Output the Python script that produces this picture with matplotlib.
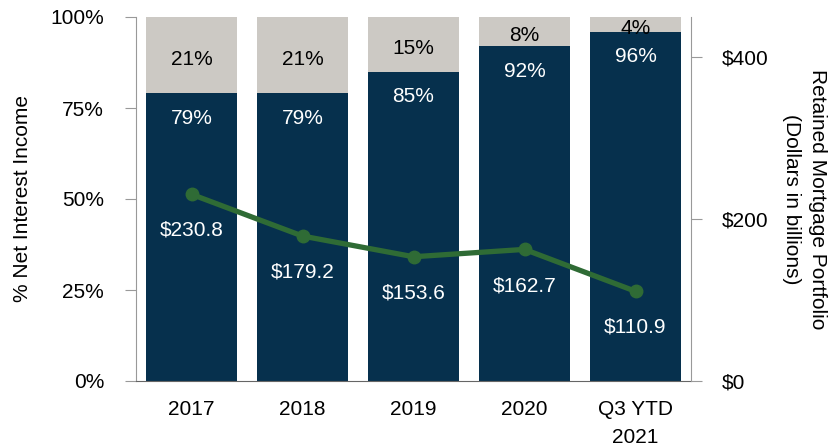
import matplotlib.pyplot as plt
import numpy as np

plt.rcParams['font.family'] = ['Liberation Sans', 'DejaVu Sans']

# data
years = ["2017", "2018", "2019", "2020", "Q3 YTD\n2021"]
nii_pct = [79, 79, 85, 92, 96]
other_pct = [21, 21, 15, 8, 4]
portfolio = [230.8, 179.2, 153.6, 162.7, 110.9]

navy = "#06304D"
grey = "#CCC9C4"
green = "#2F6B35"
axis_grey = "#999999"
fs = 15

fig = plt.figure(figsize=(8.35, 4.47), dpi=100)
ax = fig.add_axes([136/835, 1-381/447, (691-136)/835, (381-17)/447])
x = np.arange(len(years))

ax.bar(x, nii_pct, width=0.82, color=navy, zorder=2)
ax.bar(x, other_pct, bottom=nii_pct, width=0.82, color=grey, zorder=2)

for i in range(len(years)):
    ax.annotate(f"{nii_pct[i]}%", (x[i], nii_pct[i]), xytext=(0, -18), textcoords="offset points",
                ha="center", va="center", color="white", fontsize=fs, zorder=5)
    ax.annotate(f"{other_pct[i]}%", (x[i], nii_pct[i] + other_pct[i]/2), xytext=(0, -3),
                textcoords="offset points", ha="center", va="center", color="black", fontsize=fs, zorder=5)

ax.set_xlim(-0.5, len(years) - 0.5)
ax.set_ylim(0, 100)
ax.set_yticks([0, 25, 50, 75, 100])
ax.set_yticklabels(["0%", "25%", "50%", "75%", "100%"])
ax.set_xticks(x)
ax.set_xticklabels(years, linespacing=1.55)
ax.set_ylabel("% Net Interest Income", fontsize=fs, labelpad=13)

for s in ["top", "right"]:
    ax.spines[s].set_visible(False)
ax.spines["left"].set_color(axis_grey)
ax.spines["bottom"].set_color("#666666")
ax.tick_params(axis="y", length=8, color=axis_grey, labelsize=fs, pad=15)
ax.tick_params(axis="x", length=0, labelsize=fs, pad=14)

ax2 = ax.twinx()
ax2.plot(x, portfolio, color=green, linewidth=3.8, marker="o", markersize=9, zorder=4)
for i in range(len(years)):
    ax2.annotate(f"${portfolio[i]:.1f}", (x[i], portfolio[i]), xytext=(0, -26), textcoords="offset points",
                 ha="center", va="center", color="white", fontsize=fs)
ax2.set_ylim(0, 450)
ax2.set_yticks([0, 200, 400])
ax2.set_yticklabels(["$0", "$200", "$400"])
ax2.set_ylabel("Retained Mortgage Portfolio\n(Dollars in billions)", rotation=270, fontsize=fs,
               labelpad=42, linespacing=1.45)
for s in ["top", "left", "bottom"]:
    ax2.spines[s].set_visible(False)
ax2.spines["right"].set_color(axis_grey)
ax2.tick_params(axis="y", length=8, color=axis_grey, labelsize=fs, pad=14)

fig.savefig("out.png", dpi=100)
